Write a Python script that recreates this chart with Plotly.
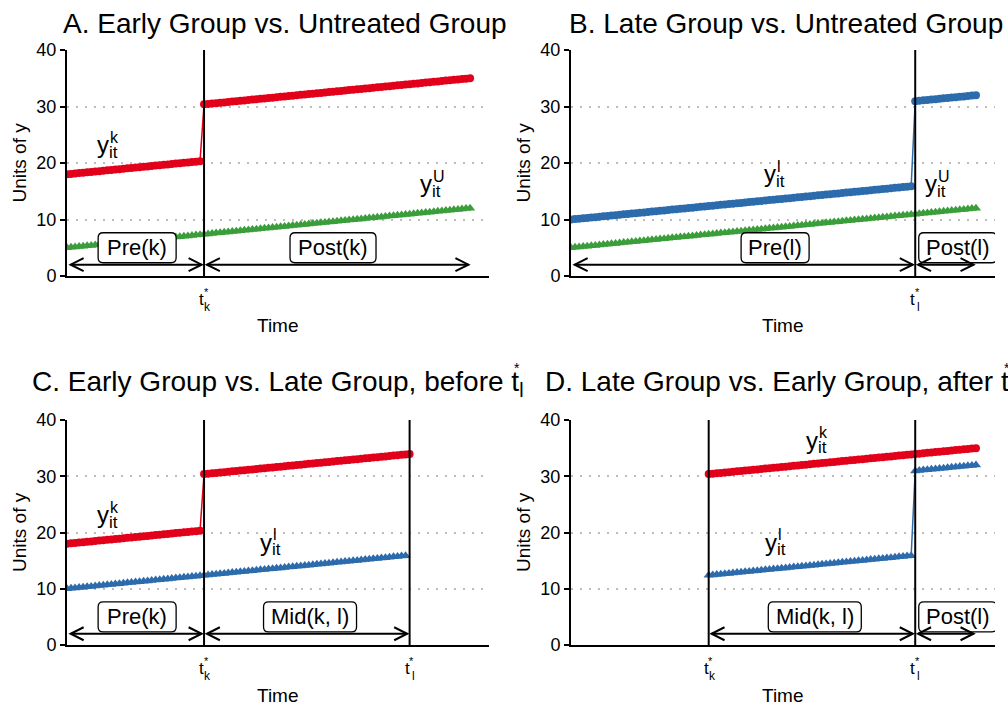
import plotly.graph_objects as go

# ---------------- data ----------------
time = list(range(0, 101))
tk = 34   # treatment time, early group
tl = 85   # treatment time, late group

y_untreated = [
    5.00, 5.07, 5.14, 5.21, 5.28, 5.35, 5.42, 5.49, 5.56, 5.63,
    5.70, 5.77, 5.84, 5.91, 5.98, 6.05, 6.12, 6.19, 6.26, 6.33,
    6.40, 6.47, 6.54, 6.61, 6.68, 6.75, 6.82, 6.89, 6.96, 7.03,
    7.10, 7.17, 7.24, 7.31, 7.38, 7.45, 7.52, 7.59, 7.66, 7.73,
    7.80, 7.87, 7.94, 8.01, 8.08, 8.15, 8.22, 8.29, 8.36, 8.43,
    8.50, 8.57, 8.64, 8.71, 8.78, 8.85, 8.92, 8.99, 9.06, 9.13,
    9.20, 9.27, 9.34, 9.41, 9.48, 9.55, 9.62, 9.69, 9.76, 9.83,
    9.90, 9.97, 10.04, 10.11, 10.18, 10.25, 10.32, 10.39, 10.46, 10.53,
    10.60, 10.67, 10.74, 10.81, 10.88, 10.95, 11.02, 11.09, 11.16, 11.23,
    11.30, 11.37, 11.44, 11.51, 11.58, 11.65, 11.72, 11.79, 11.86, 11.93,
    12.00,
]

y_early = [
    18.00, 18.07, 18.14, 18.21, 18.28, 18.35, 18.42, 18.49, 18.56, 18.63,
    18.70, 18.77, 18.84, 18.91, 18.98, 19.05, 19.12, 19.19, 19.26, 19.33,
    19.40, 19.47, 19.54, 19.61, 19.68, 19.75, 19.82, 19.89, 19.96, 20.03,
    20.10, 20.17, 20.24, 20.31, 30.38, 30.45, 30.52, 30.59, 30.66, 30.73,
    30.80, 30.87, 30.94, 31.01, 31.08, 31.15, 31.22, 31.29, 31.36, 31.43,
    31.50, 31.57, 31.64, 31.71, 31.78, 31.85, 31.92, 31.99, 32.06, 32.13,
    32.20, 32.27, 32.34, 32.41, 32.48, 32.55, 32.62, 32.69, 32.76, 32.83,
    32.90, 32.97, 33.04, 33.11, 33.18, 33.25, 33.32, 33.39, 33.46, 33.53,
    33.60, 33.67, 33.74, 33.81, 33.88, 33.95, 34.02, 34.09, 34.16, 34.23,
    34.30, 34.37, 34.44, 34.51, 34.58, 34.65, 34.72, 34.79, 34.86, 34.93,
    35.00,
]

y_late = [
    10.00, 10.07, 10.14, 10.21, 10.28, 10.35, 10.42, 10.49, 10.56, 10.63,
    10.70, 10.77, 10.84, 10.91, 10.98, 11.05, 11.12, 11.19, 11.26, 11.33,
    11.40, 11.47, 11.54, 11.61, 11.68, 11.75, 11.82, 11.89, 11.96, 12.03,
    12.10, 12.17, 12.24, 12.31, 12.38, 12.45, 12.52, 12.59, 12.66, 12.73,
    12.80, 12.87, 12.94, 13.01, 13.08, 13.15, 13.22, 13.29, 13.36, 13.43,
    13.50, 13.57, 13.64, 13.71, 13.78, 13.85, 13.92, 13.99, 14.06, 14.13,
    14.20, 14.27, 14.34, 14.41, 14.48, 14.55, 14.62, 14.69, 14.76, 14.83,
    14.90, 14.97, 15.04, 15.11, 15.18, 15.25, 15.32, 15.39, 15.46, 15.53,
    15.60, 15.67, 15.74, 15.81, 15.88, 30.95, 31.02, 31.09, 31.16, 31.23,
    31.30, 31.37, 31.44, 31.51, 31.58, 31.65, 31.72, 31.79, 31.86, 31.93,
    32.00,
]

y_ticks = [0, 10, 20, 30, 40]

titles = {
    "A": "A. Early Group vs. Untreated Group",
    "B": "B. Late Group vs. Untreated Group",
    "C": "C. Early Group vs. Late Group, before t<sub>l</sub>",
    "D": "D. Late Group vs. Early Group, after t<sub>l</sub>",
}

# period labels: (text, centre time, value, box width px)
period_labels = {
    "A": [("Pre(k)", 17.4, 5, 78), ("Post(k)", 66.0, 5, 86)],
    "B": [("Pre(l)", 50.4, 5, 68), ("Post(l)", 95.5, 5, 78)],
    "C": [("Pre(k)", 17.4, 5, 78), ("Mid(k, l)", 60.3, 5, 93)],
    "D": [("Mid(k, l)", 60.2, 5, 93), ("Post(l)", 95.5, 5, 78)],
}
# arrows: (start, end) in time units at height 2
period_arrows = {
    "A": [(0.9, 33.4), (34.7, 99.6)],
    "B": [(0.9, 84.4), (85.7, 99.4)],
    "C": [(0.9, 33.4), (34.7, 84.4)],
    "D": [(34.7, 84.4), (85.7, 99.4)],
}
# curve labels: (superscript, time, value)
curve_labels = {
    "A": [("k", 9.0, 23.2), ("U", 89.0, 16.3)],
    "B": [("l", 49.2, 18.1), ("U", 89.0, 16.3)],
    "C": [("k", 9.0, 23.2), ("l", 49.3, 18.3)],
    "D": [("k", 59.4, 36.4), ("l", 49.4, 18.3)],
}
treat_lines = {"A": [tk], "B": [tl], "C": [tk, tl], "D": [tk, tl]}
treat_ticks = {"A": [(tk, "k")], "B": [(tl, "l")],
               "C": [(tk, "k"), (tl, "l")], "D": [(tk, "k"), (tl, "l")]}

# ---------------- style ----------------
W, H = 1008, 720
FONT = "Liberation Sans, Arial, Helvetica, sans-serif"
RED, BLUE, GREEN = "#E2001A", "#2C6BAC", "#3A9E3A"

def px(x):
    return x / W

def py(y):
    return 1 - y / H

panels = {
    "A": dict(n=1, xdom=(67, 489), ydom=(50, 276), title_x=61, title_y=23),
    "B": dict(n=2, xdom=(571, 995), ydom=(50, 276), title_x=567, title_y=23),
    "C": dict(n=3, xdom=(67, 489), ydom=(420, 645), title_x=30, title_y=383),
    "D": dict(n=4, xdom=(571, 995), ydom=(420, 645), title_x=543, title_y=383),
}

fig = go.Figure()


def add_series(n, xs, ys, color, symbol):
    fig.add_trace(go.Scatter(
        x=xs, y=ys, mode="lines+markers",
        line=dict(color=color, width=1.5),
        marker=dict(color=color, size=8 if symbol == "circle" else 9,
                    symbol=symbol, line=dict(width=0)),
        xaxis="x" if n == 1 else f"x{n}", yaxis="y" if n == 1 else f"y{n}",
        showlegend=False, hoverinfo="skip",
    ))


add_series(1, time, y_early, RED, "circle")
add_series(1, time, y_untreated, GREEN, "triangle-up")
add_series(2, time, y_late, BLUE, "circle")
add_series(2, time, y_untreated, GREEN, "triangle-up")
add_series(3, time[:tl + 1], y_early[:tl + 1], RED, "circle")
add_series(3, time[:tl], y_late[:tl], BLUE, "triangle-up")
add_series(4, time[tk:], y_early[tk:], RED, "circle")
add_series(4, time[tk:], y_late[tk:], BLUE, "triangle-up")

shapes = []
annotations = []


def rounded_box(w, h, r=5):
    a, b = w / 2, h / 2
    return (f"M{-a + r},{-b} L{a - r},{-b} Q{a},{-b} {a},{-b + r} "
            f"L{a},{b - r} Q{a},{b} {a - r},{b} L{-a + r},{b} "
            f"Q{-a},{b} {-a},{b - r} L{-a},{-b + r} Q{-a},{-b} {-a + r},{-b} Z")


for key, p in panels.items():
    n = p["n"]
    xa = "x" if n == 1 else f"x{n}"
    ya = "y" if n == 1 else f"y{n}"
    xname = "xaxis" if n == 1 else f"xaxis{n}"
    yname = "yaxis" if n == 1 else f"yaxis{n}"
    x0p, x1p = p["xdom"]
    y0p, y1p = p["ydom"]
    fig.layout[xname] = dict(
        domain=[px(x0p), px(x1p)], range=[0, 104.7], anchor=ya,
        showline=True, linecolor="black", linewidth=2, ticks="",
        showticklabels=False, showgrid=False, zeroline=False, fixedrange=True,
        automargin=False,
    )
    fig.layout[yname] = dict(
        domain=[py(y1p), py(y0p)], range=[0, 40], anchor=xa,
        tickvals=y_ticks, ticktext=[str(v) for v in y_ticks],
        ticks="outside", ticklen=5, tickwidth=2, tickcolor="black",
        showline=True, linecolor="black", linewidth=2,
        showgrid=True, gridcolor="#BDBDBD", gridwidth=2, griddash="2px,7px",
        zeroline=False, fixedrange=True, automargin=False,
        tickfont=dict(family=FONT, size=18, color="black"),
    )

    for t in treat_lines[key]:
        shapes.append(dict(type="line", xref=xa, yref=ya, x0=t, x1=t, y0=0, y1=40,
                           line=dict(color="black", width=2), layer="above"))

    for text, xc, yc, bw in period_labels[key]:
        shapes.append(dict(type="path", xref=xa, yref=ya, xsizemode="pixel",
                           ysizemode="pixel", xanchor=xc, yanchor=yc,
                           path=rounded_box(bw, 30), fillcolor="white",
                           line=dict(color="black", width=1.3), layer="above"))
        annotations.append(dict(text=text, x=xc, y=yc, xref=xa, yref=ya,
                                showarrow=False, xanchor="center", yanchor="middle",
                                font=dict(family=FONT, size=22, color="black")))

    for a0, a1 in period_arrows[key]:
        shapes.append(dict(type="line", xref=xa, yref=ya, x0=a0, x1=a1, y0=2, y1=2,
                           line=dict(color="black", width=2), layer="above"))
        shapes.append(dict(type="path", xref=xa, yref=ya, xsizemode="pixel",
                           ysizemode="pixel", xanchor=a0, yanchor=2,
                           path="M13,6.5 L0,0 L13,-6.5",
                           line=dict(color="black", width=2), layer="above"))
        shapes.append(dict(type="path", xref=xa, yref=ya, xsizemode="pixel",
                           ysizemode="pixel", xanchor=a1, yanchor=2,
                           path="M-13,6.5 L0,0 L-13,-6.5",
                           line=dict(color="black", width=2), layer="above"))

    for sup, xc, yc in curve_labels[key]:
        annotations.append(dict(text="y", x=xc, y=yc, xref=xa, yref=ya,
                                showarrow=False, xanchor="center", yanchor="middle",
                                font=dict(family=FONT, size=24, color="black")))
        annotations.append(dict(text="it", x=xc, y=yc, xref=xa, yref=ya,
                                xshift=4, yshift=-7.5,
                                showarrow=False, xanchor="left", yanchor="middle",
                                font=dict(family=FONT, size=17, color="black")))
        annotations.append(dict(text=sup, x=xc, y=yc, xref=xa, yref=ya,
                                xshift=5, yshift=7.5,
                                showarrow=False, xanchor="left", yanchor="middle",
                                font=dict(family=FONT, size=16, color="black")))

    for t, sub in treat_ticks[key]:
        annotations.append(dict(text="t", x=t, y=py(y1p + 23), xref=xa, yref="paper",
                                xshift=-2.5, showarrow=False, xanchor="center",
                                yanchor="middle",
                                font=dict(family=FONT, size=17, color="black")))
        annotations.append(dict(text=sub, x=t, y=py(y1p + 31), xref=xa, yref="paper",
                                xshift=3.5, showarrow=False, xanchor="center",
                                yanchor="middle",
                                font=dict(family=FONT, size=12, color="black")))
        annotations.append(dict(text="*", x=t, y=py(y1p + 16), xref=xa, yref="paper",
                                xshift=2, showarrow=False, xanchor="center",
                                yanchor="middle",
                                font=dict(family=FONT, size=11, color="black")))

    annotations.append(dict(text="Time", x=px((x0p + x1p) / 2), y=py(y1p + 50),
                            xref="paper", yref="paper", showarrow=False,
                            xanchor="center", yanchor="middle",
                            font=dict(family=FONT, size=19, color="black")))
    annotations.append(dict(text="Units of y", x=px(x0p - 47.5), y=py((y0p + y1p) / 2),
                            xref="paper", yref="paper", showarrow=False, textangle=-90,
                            xanchor="center", yanchor="middle",
                            font=dict(family=FONT, size=19, color="black")))

    annotations.append(dict(text=titles[key], x=px(p["title_x"]), y=py(p["title_y"]),
                            xref="paper", yref="paper", showarrow=False,
                            xanchor="left", yanchor="middle",
                            font=dict(family=FONT, size=28, color="black")))

annotations.append(dict(text="*", x=px(517), y=py(368), xref="paper", yref="paper",
                        showarrow=False, xanchor="center", yanchor="middle",
                        font=dict(family=FONT, size=14, color="black")))
annotations.append(dict(text="*", x=px(1007), y=py(368), xref="paper", yref="paper",
                        showarrow=False, xanchor="center", yanchor="middle",
                        font=dict(family=FONT, size=14, color="black")))

fig.update_layout(
    width=W, height=H, margin=dict(l=0, r=0, t=0, b=0, pad=0, autoexpand=False),
    paper_bgcolor="white", plot_bgcolor="white",
    shapes=shapes, annotations=annotations, showlegend=False,
    font=dict(family=FONT, color="black"),
)

fig.write_html("out.html", config={"displayModeBar": False},
               post_script="document.body.style.margin='0';")
